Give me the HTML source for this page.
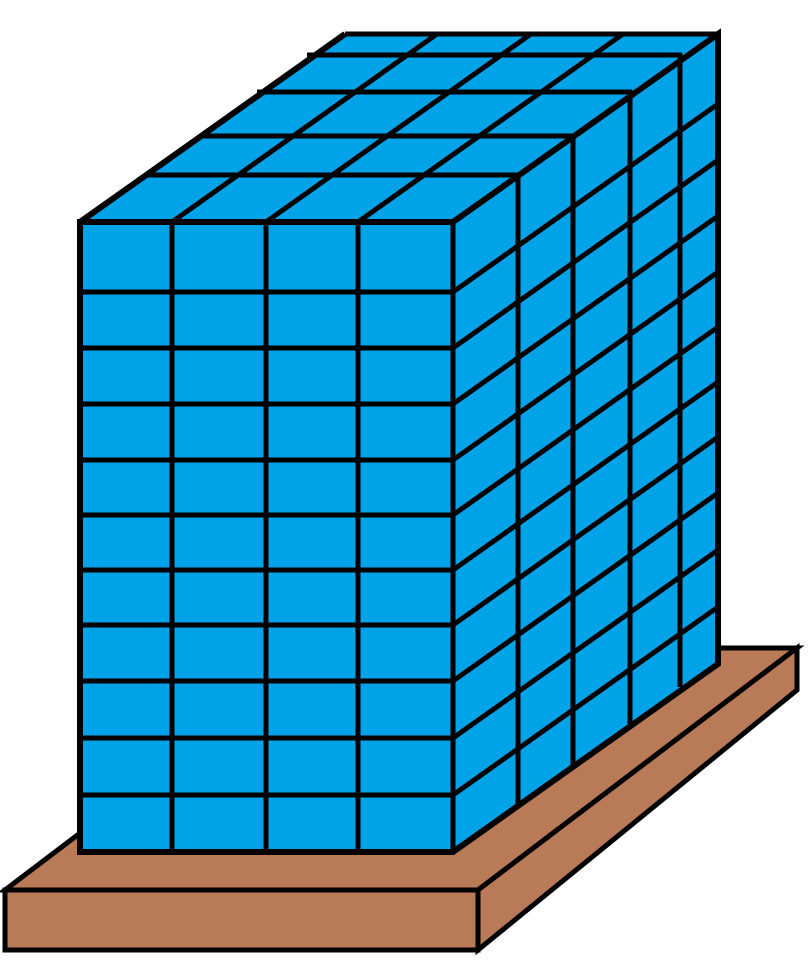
<!DOCTYPE html>
<html><head><meta charset="utf-8"><style>html,body{margin:0;padding:0;background:#fff}svg{display:block}</style></head>
<body>
<svg id="s" width="808" height="960" viewBox="0 0 808 960" xmlns="http://www.w3.org/2000/svg">
<g fill="#B97A57" stroke="#000" stroke-width="5" stroke-linejoin="miter">
<polygon points="5,890 478,890 797,648 324,648"/>
<polygon points="478,890 797,648 797,690 478,950"/>
<rect x="5" y="890" width="473" height="60"/>
</g>
<g id="box"></g>
</svg>
<script>
const cols=[80,172,266,358,453];
const rows=[222,292,348,404,460,515,570,625,681,738,795,852];
const depthX=[0,65,120,177,227,265];
const depthY=[0,-47,-86,-130,-167,-188];
const g=document.getElementById('box');
const NS='http://www.w3.org/2000/svg';
function mk(tag,attrs,name){const e=document.createElementNS(NS,tag);for(const k in attrs)e.setAttribute(k,attrs[k]);


g.appendChild(e);return e;}
const L=cols[0],R=cols[cols.length-1],T=rows[0],B=rows[rows.length-1],DX=depthX[depthX.length-1],DY=depthY[depthY.length-1];
mk('polygon',{points:`${L},${T} ${R},${T} ${R+DX},${T+DY} ${L+DX},${T+DY}`,fill:'#00A2E8'},'box-top');
mk('polygon',{points:`${R},${T} ${R+DX},${T+DY} ${R+DX},${B+DY} ${R},${B}`,fill:'#00A2E8'},'box-side');
mk('rect',{x:L,y:T,width:R-L,height:B-T,fill:'#00A2E8'},'box-front');
const st={stroke:'#000','stroke-width':5,'stroke-linecap':'butt'};
cols.forEach(x=>{mk('line',Object.assign({x1:x,y1:T-2,x2:x,y2:B+2},st),'front-col-line');
 mk('line',Object.assign({x1:x,y1:T,x2:x+DX,y2:T+DY},st),'top-depth-line');});
rows.forEach(y=>{mk('line',Object.assign({x1:L-2,y1:y,x2:R+2,y2:y},st),'front-row-line');
 mk('line',Object.assign({x1:R,y1:y,x2:R+DX,y2:y+DY},st),'side-row-line');});
depthX.forEach((dx,i)=>{const dy=depthY[i];
 mk('line',Object.assign({x1:L+dx,y1:T+dy,x2:R+dx+2,y2:T+dy},st),'top-width-line');
 mk('line',Object.assign({x1:R+dx,y1:T+dy-2,x2:R+dx,y2:B+dy+2},st),'side-col-line');});
mk('polygon',{points:`${L},${T} ${R},${T} ${R+DX},${T+DY} ${R+DX},${B+DY} ${R},${B} ${L},${B}`,fill:'none',stroke:'#000','stroke-width':6,'stroke-linejoin':'miter'},'box-outline');
mk('line',{x1:L,y1:T,x2:L+DX,y2:T+DY,stroke:'#000','stroke-width':6},'box-top-left-edge');
</script>
</body></html>
